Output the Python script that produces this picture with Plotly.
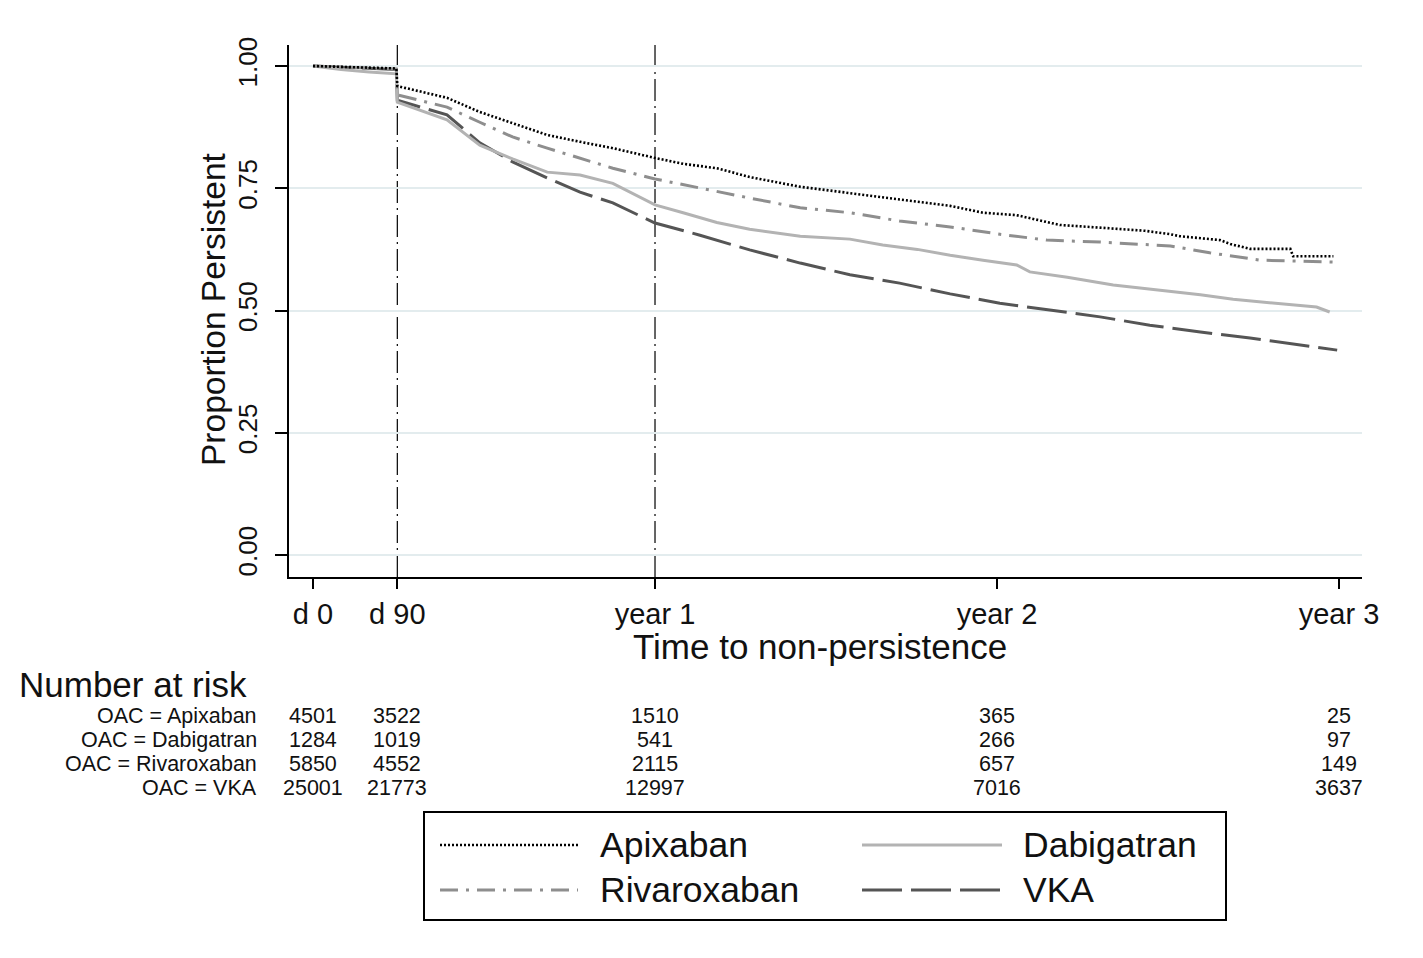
import plotly.graph_objects as go

# ---------------- data ----------------
apix_days = [0, 30, 60, 89, 90, 143, 178, 213, 250, 285, 320, 365, 395, 431, 466, 520, 573, 626,
             680, 715, 751, 783, 797, 851, 888, 915, 925, 968, 979, 1000, 1043, 1046, 1089]
apix_surv = [1.0, 0.998, 0.996, 0.995, 0.959, 0.935, 0.906, 0.883, 0.859, 0.845, 0.832, 0.812, 0.80,
             0.791, 0.773, 0.753, 0.74, 0.726, 0.714, 0.70, 0.695, 0.681, 0.675, 0.668, 0.663, 0.656,
             0.652, 0.644, 0.636, 0.626, 0.626, 0.611, 0.611]

dabi_days = [0, 30, 60, 89, 90, 143, 178, 213, 250, 285, 320, 365, 395, 431, 466, 520, 573, 608,
             645, 680, 715, 751, 765, 805, 854, 893, 947, 982, 1035, 1071, 1085]
dabi_surv = [1.0, 0.993, 0.988, 0.984, 0.926, 0.89, 0.838, 0.81, 0.783, 0.777, 0.76, 0.716, 0.70,
             0.68, 0.666, 0.652, 0.646, 0.634, 0.625, 0.613, 0.603, 0.593, 0.579, 0.568, 0.552,
             0.544, 0.532, 0.523, 0.513, 0.507, 0.497]

riva_days = [0, 30, 60, 89, 90, 143, 178, 213, 250, 285, 320, 365, 413, 466, 520, 573, 626, 680,
             733, 783, 840, 915, 957, 1011, 1053, 1089]
riva_surv = [1.0, 0.998, 0.996, 0.994, 0.941, 0.916, 0.885, 0.855, 0.832, 0.812, 0.791, 0.769, 0.75,
             0.73, 0.71, 0.70, 0.683, 0.671, 0.656, 0.644, 0.64, 0.632, 0.618, 0.603, 0.601, 0.599]

vka_days = [0, 30, 60, 89, 90, 143, 178, 213, 250, 285, 320, 365, 413, 466, 520, 573, 626, 680,
            733, 787, 840, 893, 947, 1000, 1053, 1093]
vka_surv = [1.0, 0.998, 0.995, 0.993, 0.93, 0.90, 0.843, 0.804, 0.771, 0.742, 0.72, 0.679, 0.654,
            0.624, 0.597, 0.573, 0.556, 0.534, 0.515, 0.501, 0.487, 0.47, 0.456, 0.444, 0.429, 0.419]

x_tick_days = [0, 90, 365, 730, 1095]
x_tick_labels = ["d 0", "d 90", "year 1", "year 2", "year 3"]
y_tick_vals = [0, 0.25, 0.5, 0.75, 1.0]
y_tick_labels = ["0.00", "0.25", "0.50", "0.75", "1.00"]
ref_line_days = [90, 365]

risk_groups = ["OAC = Apixaban", "OAC = Dabigatran", "OAC = Rivaroxaban", "OAC = VKA"]
risk_apix = [4501, 3522, 1510, 365, 25]
risk_dabi = [1284, 1019, 541, 266, 97]
risk_riva = [5850, 4552, 2115, 657, 149]
risk_vka = [25001, 21773, 12997, 7016, 3637]

# ---------------- styles ----------------
W, H = 1423, 958
FONT = "Liberation Sans, Arial, sans-serif"
TXT = "#111111"


def px(x):
    return x / W


def py(y):
    return 1 - y / H


styles = {
    "Apixaban": dict(color="#000000", width=2.6, dash="2px,2px"),
    "Dabigatran": dict(color="#b3b3b3", width=3, dash="solid"),
    "Rivaroxaban": dict(color="#8e8e8e", width=3, dash="18px,8px,3px,8px"),
    "VKA": dict(color="#555555", width=3, dash="40px,9px"),
}

series = [
    ("VKA", vka_days, vka_surv),
    ("Dabigatran", dabi_days, dabi_surv),
    ("Rivaroxaban", riva_days, riva_surv),
    ("Apixaban", apix_days, apix_surv),
]

fig = go.Figure()
for name, d, s in series:
    fig.add_trace(go.Scatter(x=d, y=s, mode="lines", name=name, line=styles[name],
                             showlegend=False))

shapes = []
for d in ref_line_days:
    shapes.append(dict(type="line", xref="x", yref="y domain", x0=d, x1=d, y0=0, y1=1,
                       line=dict(color="#000000", width=1.2, dash="22px,5px,2px,5px"), layer="below"))

# legend box
shapes.append(dict(type="rect", xref="paper", yref="paper", x0=px(424), x1=px(1226),
                   y0=py(920), y1=py(812), line=dict(color="#000000", width=2)))

annotations = []
legend_items = [
    ("Apixaban", 440, 580, 598, 845),
    ("Dabigatran", 862, 1002, 1021, 845),
    ("Rivaroxaban", 440, 578, 598, 890),
    ("VKA", 862, 1002, 1021, 890),
]
for name, lx0, lx1, tx, ty in legend_items:
    shapes.append(dict(type="line", xref="paper", yref="paper", x0=px(lx0), x1=px(lx1),
                       y0=py(ty), y1=py(ty), line=styles[name]))
    annotations.append(dict(text=name, xref="paper", yref="paper", x=px(tx), y=py(ty),
                            xanchor="left", yanchor="middle", showarrow=False,
                            font=dict(family=FONT, size=35.5, color=TXT)))

# axis titles
annotations.append(dict(text="Time to non-persistence", xref="paper", yref="paper",
                        x=px(820), y=py(646), xanchor="center", yanchor="middle", showarrow=False,
                        font=dict(family=FONT, size=35, color=TXT)))
annotations.append(dict(text="Proportion Persistent", xref="paper", yref="paper",
                        x=px(213), y=py(309), xanchor="center", yanchor="middle", showarrow=False,
                        textangle=-90, font=dict(family=FONT, size=33.5, color=TXT)))

# number at risk table
annotations.append(dict(text="Number at risk", xref="paper", yref="paper", x=px(17), y=py(684),
                        xanchor="left", yanchor="middle", showarrow=False,
                        font=dict(family=FONT, size=35, color=TXT)))
row_y = [716, 740, 764, 788]
for label, counts, yy in zip(risk_groups, [risk_apix, risk_dabi, risk_riva, risk_vka], row_y):
    annotations.append(dict(text=label, xref="paper", yref="paper", x=px(259), y=py(yy),
                            xanchor="right", yanchor="middle", showarrow=False,
                            font=dict(family=FONT, size=21.5, color=TXT)))
    for d, c in zip(x_tick_days, counts):
        annotations.append(dict(text=str(c), xref="x", yref="paper", x=d, y=py(yy),
                                xanchor="center", yanchor="middle", showarrow=False,
                                font=dict(family=FONT, size=21.5, color=TXT)))

fig.update_layout(
    width=W, height=H,
    margin=dict(l=0, r=0, t=0, b=0),
    paper_bgcolor="white", plot_bgcolor="white",
    showlegend=False,
    shapes=shapes,
    annotations=annotations,
    xaxis=dict(domain=[px(289), px(1362)], range=[-25.6, 1119.5],
               tickvals=x_tick_days, ticktext=x_tick_labels,
               ticks="outside", ticklen=10, tickwidth=2, tickcolor="#000000",
               showline=True, linecolor="#000000", linewidth=2,
               showgrid=False, zeroline=False, automargin=False,
               tickfont=dict(family=FONT, size=29, color=TXT)),
    yaxis=dict(domain=[py(577), py(45)], range=[-0.045, 1.043],
               tickvals=y_tick_vals, ticktext=y_tick_labels, tickangle=-90,
               ticks="outside", ticklen=12, tickwidth=2, tickcolor="#000000",
               showline=True, linecolor="#000000", linewidth=2,
               showgrid=True, gridcolor="#e3ecee", gridwidth=2,
               zeroline=False, automargin=False, ticklabelstandoff=8,
               tickfont=dict(family=FONT, size=26, color=TXT)),
)

fig.write_html("out.html", config={"displayModeBar": False},
               post_script="document.body.style.margin='0';document.body.style.overflow='hidden';")
